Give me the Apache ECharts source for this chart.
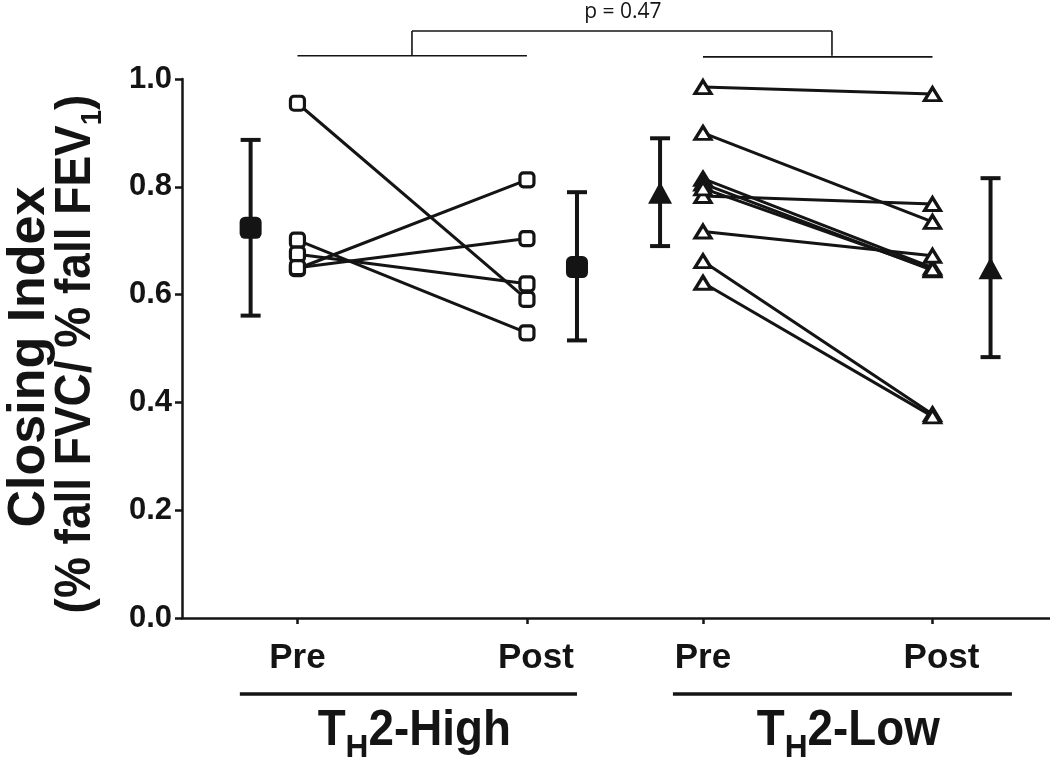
<!DOCTYPE html>
<html><head><meta charset="utf-8">
<script src="https://cdn.jsdelivr.net/npm/echarts@6/dist/echarts.min.js"></script>
<style>html,body{margin:0;padding:0;background:#fff}#c{width:1050px;height:757px}</style>
</head><body><div id="c"></div><script>
// ---- data ----
const xTickLabels = ['Pre', 'Post', 'Pre', 'Post'];
const groupLabels = ['High', 'Low'];
const yTickValues = [0, 0.2, 0.4, 0.6, 0.8, 1.0];
const highPre  = [0.955, 0.701, 0.675, 0.648, 0.650];
const highPost = [0.591, 0.529, 0.620, 0.813, 0.704];
const lowPre   = [0.985, 0.900, 0.783, 0.815, 0.806, 0.797, 0.717, 0.662, 0.622];
const lowPost  = [0.972, 0.735, 0.768, 0.650, 0.645, 0.647, 0.672, 0.378, 0.374];
const meanVals = [0.724, 0.651, 0.789, 0.649];
const errUpper = [0.887, 0.790, 0.890, 0.816];
const errLower = [0.561, 0.515, 0.690, 0.484];
const pValueText = 'p = 0.47';

// ---- layout (axis positions) ----
const xTickPos = [1, 2, 2.767, 3.767];
const meanPos = [0.796, 2.218, 2.580, 4.020];
const xMin = 0.497, xMax = 4.279;
const INK = '#141414';
const SANS = '"Liberation Sans", Arial, Helvetica, sans-serif';

const chart = echarts.init(document.getElementById('c'), null, {renderer: 'canvas'});

const series = [];
function addSubjects(pre, post, xa, xb, symbol, size) {
  pre.forEach((v, i) => {
    series.push({
      type: 'line', data: [[xa, v], [xb, post[i]]], showSymbol: false, z: 2,
      lineStyle: {color: INK, width: 3}, silent: true, animation: false
    });
  });
  series.push({
    type: 'scatter', z: 4, symbol: symbol, symbolSize: size, animation: false,
    data: pre.map(v => [xa, v]).concat(post.map(v => [xb, v])),
    itemStyle: {color: '#fff', borderColor: INK, borderWidth: 3.2, opacity: 1}
  });
}
addSubjects(highPre, highPost, xTickPos[0], xTickPos[1], 'roundRect', 14);
addSubjects(lowPre, lowPost, xTickPos[2], xTickPos[3], 'triangle', [16, 13]);

series.push({
  type: 'custom', z: 3, animation: false,
  data: meanPos.map((x, i) => [x, errLower[i], errUpper[i]]),
  encode: {x: 0, y: [1, 2]},
  renderItem: function (params, api) {
    const x = api.value(0);
    const pLo = api.coord([x, api.value(1)]);
    const pHi = api.coord([x, api.value(2)]);
    const cap = 10;
    const st = {stroke: INK, lineWidth: 4};
    return {type: 'group', children: [
      {type: 'line', shape: {x1: pLo[0], y1: pLo[1], x2: pHi[0], y2: pHi[1]}, style: st},
      {type: 'line', shape: {x1: pLo[0] - cap, y1: pLo[1], x2: pLo[0] + cap, y2: pLo[1]}, style: st},
      {type: 'line', shape: {x1: pHi[0] - cap, y1: pHi[1], x2: pHi[0] + cap, y2: pHi[1]}, style: st}
    ]};
  }
});
series.push({
  type: 'scatter', z: 5, symbol: 'roundRect', symbolSize: 22, animation: false,
  data: [[meanPos[0], meanVals[0]], [meanPos[1], meanVals[1]]],
  itemStyle: {color: INK, opacity: 1}
});
series.push({
  type: 'scatter', z: 5, symbol: 'triangle', symbolSize: [24, 22], animation: false,
  data: [[meanPos[2], meanVals[2]], [meanPos[3], meanVals[3]]],
  itemStyle: {color: INK, opacity: 1}
});

function nearestIndex(v) {
  let best = 0;
  xTickPos.forEach((p, i) => { if (Math.abs(p - v) < Math.abs(xTickPos[best] - v)) best = i; });
  return best;
}

const tickFont = {color: INK, fontSize: 35, fontWeight: 'bold', fontFamily: SANS};
chart.setOption({
  backgroundColor: '#fff',
  animation: false,
  grid: {left: 182, right: 0, top: 79, bottom: 139, containLabel: false},
  xAxis: {
    type: 'value', min: xMin, max: xMax,
    axisLine: {onZero: false, lineStyle: {color: INK, width: 2.5}},
    axisTick: {customValues: xTickPos, length: 6, lineStyle: {color: INK, width: 2.5}},
    axisLabel: Object.assign({
      customValues: xTickPos, margin: 23,
      formatter: v => { const i = nearestIndex(v); return (i % 2 ? '{q|' : '{p|') + xTickLabels[i] + '}'; },
      rich: {p: Object.assign({}, tickFont), q: Object.assign({padding: [0, 0, 0, 18]}, tickFont)}
    }, tickFont),
    splitLine: {show: false}
  },
  yAxis: {
    type: 'value', min: 0, max: 1, interval: 0.2,
    axisLine: {show: true, onZero: false, lineStyle: {color: INK, width: 2.5}},
    axisTick: {show: true, length: 7, lineStyle: {color: INK, width: 2.5}},
    axisLabel: {formatter: v => v.toFixed(1), margin: 10, color: INK, fontSize: 31,
      fontWeight: 'bold', fontFamily: SANS},
    splitLine: {show: false}
  },
  series: series
});

// ---- annotations positioned through the chart's own coordinate system ----
const px = (x, y) => chart.convertToPixel({gridIndex: 0}, [x, y]);
const g = [];
function seg(a, b, w) {
  g.push({type: 'line', shape: {x1: a[0], y1: a[1], x2: b[0], y2: b[1]},
    style: {stroke: INK, lineWidth: w}, z: 10, silent: true});
}
// significance bracket
const yLow = 1.043, yTop = 1.089;
seg(px(xTickPos[0], yLow), px(xTickPos[1], yLow), 1.6);
seg(px(xTickPos[2], yLow - 0.002), px(xTickPos[3], yLow - 0.002), 1.6);
const vL = 1.499, vR = 3.329;
seg(px(vL, yLow), px(vL, yTop), 1.6);
seg(px(vR, yLow), px(vR, yTop), 1.6);
seg(px(vL, yTop), px(vR, yTop), 1.6);
const pPos = px(2.418, 1.124);
g.push({type: 'text', x: pPos[0], y: pPos[1], z: 10, silent: true,
  style: {text: pValueText, fill: INK, font: '21px "Open Sans", sans-serif', align: 'center', verticalAlign: 'middle'}});

// group underlines and labels
const gy = -0.141;
seg(px(0.749, gy), px(2.218, gy), 3.5);
seg(px(2.636, gy), px(4.113, gy), 3.5);
const labelX = [1.509, 3.400];
groupLabels.forEach((name, i) => {
  const p = px(labelX[i], -0.163);
  g.push({type: 'text', x: p[0], y: p[1], z: 10, silent: true, scaleX: 0.88, scaleY: 0.96,
    style: {
      text: '{a|T}{b|H}{a|2-' + name + '}', align: 'center', verticalAlign: 'top',
      rich: {
        a: {fontSize: 52, fontWeight: 'bold', fontFamily: SANS, fill: INK, verticalAlign: 'top'},
        b: {fontSize: 36, fontWeight: 'bold', fontFamily: SANS, fill: INK, verticalAlign: 'top', padding: [27, 0, 0, 0]}
      }
    }});
});

// y-axis title (two rotated lines)
g.push({type: 'text', x: 30, y: 357, rotation: Math.PI / 2, z: 10, silent: true,
  style: {text: 'Closing Index', fill: INK, font: 'bold 52px ' + SANS, align: 'center', verticalAlign: 'middle'}});
g.push({type: 'text', x: 51, y: 354, rotation: Math.PI / 2, scaleX: 0.92, scaleY: 1, z: 10, silent: true,
  style: {
    text: '{a|(% fall FVC/ % fall FEV}{s|1}{a|)}', align: 'center', verticalAlign: 'top',
    rich: {
      a: {fontSize: 50, fontWeight: 'bold', fontFamily: SANS, fill: INK, verticalAlign: 'top'},
      s: {fontSize: 30, fontWeight: 'bold', fontFamily: SANS, fill: INK, verticalAlign: 'top', padding: [27, 0, 0, 0]}
    }
  }});

chart.setOption({graphic: g});
</script></body></html>
